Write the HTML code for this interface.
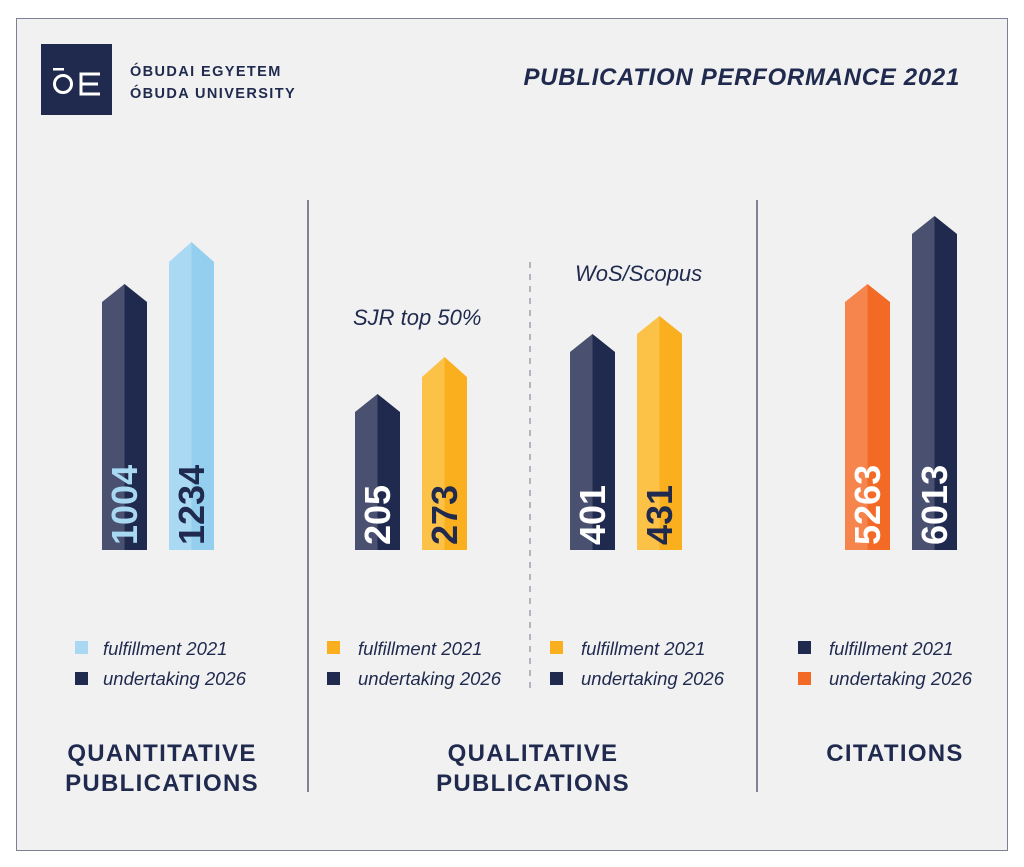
<!DOCTYPE html>
<html><head><meta charset="utf-8"><style>
html,body{margin:0;padding:0;background:#fff}
svg{display:block}
text{font-family:"Liberation Sans",sans-serif}
</style></head><body>
<svg width="1024" height="867" viewBox="0 0 1024 867" xmlns="http://www.w3.org/2000/svg">
<rect x="0" y="0" width="1024" height="867" fill="#fff"/>
<rect x="16.5" y="18.5" width="991" height="832" fill="#f1f1f1" stroke="#7b8190" stroke-width="1"/>
<!-- logo -->
<rect x="41" y="44" width="71" height="71" fill="#1f2a4e"/>
<rect x="53" y="68" width="11" height="2.5" fill="#fff"/>
<circle cx="63" cy="84" r="8.5" fill="none" stroke="#fff" stroke-width="3"/>
<path d="M100 74 H81 V94 H100 M81 84 H98" fill="none" stroke="#fff" stroke-width="3"/>
<text x="130" y="76" font-size="14.5" font-weight="bold" fill="#1f2a4e" letter-spacing="1.4">ÓBUDAI EGYETEM</text>
<text x="130" y="98" font-size="14.5" font-weight="bold" fill="#1f2a4e" letter-spacing="1.4">ÓBUDA UNIVERSITY</text>
<text x="960" y="85" font-size="24" font-weight="bold" font-style="italic" fill="#1f2a4e" text-anchor="end" letter-spacing="0.7">PUBLICATION PERFORMANCE 2021</text>
<!-- dividers -->
<line x1="308" y1="200" x2="308" y2="792" stroke="#5a6178" stroke-width="1.5"/>
<line x1="757" y1="200" x2="757" y2="792" stroke="#5a6178" stroke-width="1.5"/>
<line x1="530" y1="262" x2="530" y2="690" stroke="#8a8f9c" stroke-width="1.2" stroke-dasharray="6,6"/>
<text x="353" y="325" font-size="22" font-style="italic" fill="#1f2a4e">SJR top 50%</text>
<text x="575" y="281" font-size="22" font-style="italic" fill="#1f2a4e">WoS/Scopus</text>
<!-- bars -->
<g id="bars">
<polygon points="102,550 102,302 124.5,284 124.5,550" fill="#4a5170"/><polygon points="124.5,550 124.5,284 147,302 147,550" fill="#1f2a4e"/>
<polygon points="169,550 169,262 191.5,242 191.5,550" fill="#aadaf3"/><polygon points="191.5,550 191.5,242 214,262 214,550" fill="#94cfef"/>
<polygon points="355,550 355,412 377.5,394 377.5,550" fill="#4a5170"/><polygon points="377.5,550 377.5,394 400,412 400,550" fill="#1f2a4e"/>
<polygon points="422,550 422,377 444.5,357 444.5,550" fill="#fcc147"/><polygon points="444.5,550 444.5,357 467,377 467,550" fill="#faaf1e"/>
<polygon points="570,550 570,352 592.5,334 592.5,550" fill="#4a5170"/><polygon points="592.5,550 592.5,334 615,352 615,550" fill="#1f2a4e"/>
<polygon points="637,550 637,334 659.5,316 659.5,550" fill="#fcc147"/><polygon points="659.5,550 659.5,316 682,334 682,550" fill="#faaf1e"/>
<polygon points="845,550 845,302 867.5,284 867.5,550" fill="#f5854c"/><polygon points="867.5,550 867.5,284 890,302 890,550" fill="#f26a25"/>
<polygon points="912,550 912,234 934.5,216 934.5,550" fill="#4a5170"/><polygon points="934.5,550 934.5,216 957,234 957,550" fill="#1f2a4e"/>
</g>
<g font-size="36" font-weight="bold">
<text transform="translate(137,545) rotate(-90)" fill="#a9d8f2">1004</text>
<text transform="translate(204,545) rotate(-90)" fill="#1f2a4e">1234</text>
<text transform="translate(390,545) rotate(-90)" fill="#fff">205</text>
<text transform="translate(457,545) rotate(-90)" fill="#1f2a4e">273</text>
<text transform="translate(605,545) rotate(-90)" fill="#fff">401</text>
<text transform="translate(672,545) rotate(-90)" fill="#1f2a4e">431</text>
<text transform="translate(880,545) rotate(-90)" fill="#fff">5263</text>
<text transform="translate(947,545) rotate(-90)" fill="#fff">6013</text>
</g>
<!-- legends -->
<g font-size="18.5" font-style="italic" fill="#1f2a4e">
<rect x="75" y="641" width="13" height="13" fill="#a9d8f2"/><rect x="75" y="672" width="13" height="13" fill="#1f2a4e"/>
<text x="103" y="655">fulfillment 2021</text><text x="103" y="685">undertaking 2026</text>
<rect x="327" y="641" width="13" height="13" fill="#faaf1e"/><rect x="327" y="672" width="13" height="13" fill="#1f2a4e"/>
<text x="358" y="655">fulfillment 2021</text><text x="358" y="685">undertaking 2026</text>
<rect x="550" y="641" width="13" height="13" fill="#faaf1e"/><rect x="550" y="672" width="13" height="13" fill="#1f2a4e"/>
<text x="581" y="655">fulfillment 2021</text><text x="581" y="685">undertaking 2026</text>
<rect x="798" y="641" width="13" height="13" fill="#1f2a4e"/><rect x="798" y="672" width="13" height="13" fill="#f26a25"/>
<text x="829" y="655">fulfillment 2021</text><text x="829" y="685">undertaking 2026</text>
</g>
<g font-size="24" font-weight="bold" fill="#1f2a4e" text-anchor="middle" letter-spacing="1.3">
<text x="162" y="761">QUANTITATIVE</text><text x="162" y="791">PUBLICATIONS</text>
<text x="533" y="761">QUALITATIVE</text><text x="533" y="791">PUBLICATIONS</text>
<text x="895" y="761">CITATIONS</text>
</g>
</svg>
</body></html>
